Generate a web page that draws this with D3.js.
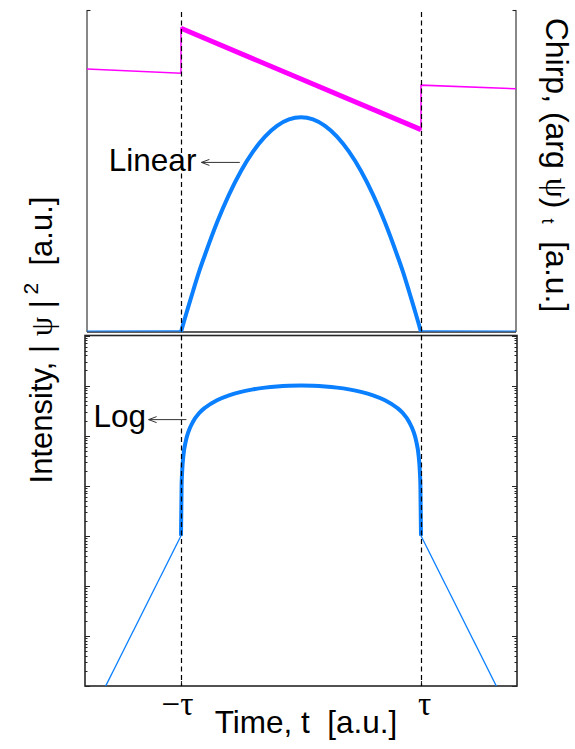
<!DOCTYPE html>
<html>
<head>
<meta charset="utf-8">
<script src="https://cdn.jsdelivr.net/npm/d3@7"></script>
<style>
  html, body { margin: 0; padding: 0; background: #fff; }
  svg { display: block; font-family: "Liberation Sans", Arial, Helvetica, sans-serif; }
  text { white-space: pre; }
</style>
</head>
<body>
<svg id="chart" width="575" height="749"></svg>
<script>
// Pulse inside the window [-tau, tau] (time in units of tau), peak-normalised intensity
const tPulse = [-1, -0.995, -0.99, -0.98, -0.96, -0.94, -0.9, -0.85, -0.8, -0.7, -0.6, -0.5, -0.4, -0.3, -0.2, -0.1,
                0, 0.1, 0.2, 0.3, 0.4, 0.5, 0.6, 0.7, 0.8, 0.85, 0.9, 0.94, 0.96, 0.98, 0.99, 0.995, 1];
const intensityPulse = [0.001, 0.01, 0.02, 0.04, 0.078, 0.116, 0.19, 0.28, 0.36, 0.51, 0.64, 0.75, 0.84, 0.91, 0.96, 0.99,
                        1.0, 0.99, 0.96, 0.91, 0.84, 0.75, 0.64, 0.51, 0.36, 0.28, 0.19, 0.116, 0.078, 0.04, 0.02, 0.01, 0.001];

// Exponential tails outside the pulse
const tTailLeft = [-1.8, -1];
const intensityTailLeft = [1.5e-7, 0.001];
const tTailRight = [1, 1.8];
const intensityTailRight = [0.001, 1.5e-7];

// Instantaneous frequency (chirp), arbitrary units
const tChirp = [-1.8, -1, -1, 1, 1, 1.8];
const chirp = [0.95, 0.91, 1.33, 0.385, 0.80, 0.765];

// Time axis ticks
const tickTimes = [-1, 1];
const tickLabels = ["\u2212\u03C4", "\u03C4"];

// ---- layout ----
const topPanel = { left: 87, right: 516, top: 10, bottom: 332 };
const botPanel = { left: 85, right: 517, top: 335.5, bottom: 686 };
const blue = "#0a7fff";
const magenta = "#ff00ff";
const axisColor = "#262626";

const svg = d3.select("#chart");

const x = d3.scaleLinear().domain([-1.8, 1.8]).range([botPanel.left, botPanel.right]);
const yLin = d3.scaleLinear().domain([0, 1.5]).range([topPanel.bottom, topPanel.top]);
const yChirp = d3.scaleLinear().domain([-1.5, 1.5]).range([topPanel.bottom, topPanel.top]);
const yLog = d3.scaleLog().domain([1e-6, 10]).range([botPanel.bottom, botPanel.top]);

const zip = (ts, vs) => ts.map((t, i) => ({ t, v: vs[i] }));
const pulse = zip(tPulse, intensityPulse);
const tailL = zip(tTailLeft, intensityTailLeft);
const tailR = zip(tTailRight, intensityTailRight);
const chirpPts = zip(tChirp, chirp);

const defs = svg.append("defs");
defs.append("clipPath").attr("id", "clipTop").append("rect")
  .attr("x", topPanel.left).attr("y", topPanel.top - 2)
  .attr("width", topPanel.right - topPanel.left).attr("height", topPanel.bottom - topPanel.top + 2);
defs.append("clipPath").attr("id", "clipBot").append("rect")
  .attr("x", botPanel.left).attr("y", botPanel.top)
  .attr("width", botPanel.right - botPanel.left).attr("height", botPanel.bottom - botPanel.top);

// ---- top panel frame: left/right/bottom lines only ----
const frameTop = svg.append("g").attr("stroke", axisColor).attr("fill", "none");
frameTop.append("line").attr("x1", topPanel.left).attr("x2", topPanel.left)
  .attr("y1", topPanel.top).attr("y2", topPanel.bottom).attr("stroke-width", 1.1);
frameTop.append("line").attr("x1", topPanel.right).attr("x2", topPanel.right)
  .attr("y1", topPanel.top).attr("y2", topPanel.bottom).attr("stroke-width", 1.1);
frameTop.append("line").attr("x1", topPanel.left).attr("x2", topPanel.right)
  .attr("y1", topPanel.bottom).attr("y2", topPanel.bottom).attr("stroke-width", 1.6);
frameTop.append("line").attr("x1", topPanel.left).attr("x2", topPanel.left + 3.5)
  .attr("y1", topPanel.top + 0.5).attr("y2", topPanel.top + 0.5).attr("stroke-width", 1.1);
frameTop.append("line").attr("x1", topPanel.right).attr("x2", topPanel.right - 3.5)
  .attr("y1", topPanel.top + 0.5).attr("y2", topPanel.top + 0.5).attr("stroke-width", 1.1);

// ---- bottom panel box ----
svg.append("rect")
  .attr("x", botPanel.left).attr("y", botPanel.top)
  .attr("width", botPanel.right - botPanel.left).attr("height", botPanel.bottom - botPanel.top)
  .attr("fill", "none").attr("stroke", axisColor).attr("stroke-width", 1.6);

// log ticks on both sides, pointing inward
const isDecade = v => Math.abs(Math.log10(v) - Math.round(Math.log10(v))) < 1e-9;
const logTicks = yLog.ticks();
const tickG = svg.append("g").attr("stroke", axisColor).attr("stroke-width", 1);
logTicks.forEach(v => {
  const len = isDecade(v) ? 5 : 2.5;
  const yy = Math.round(yLog(v)) + 0.5;
  tickG.append("line").attr("x1", botPanel.left).attr("x2", botPanel.left + len).attr("y1", yy).attr("y2", yy);
  tickG.append("line").attr("x1", botPanel.right).attr("x2", botPanel.right - len).attr("y1", yy).attr("y2", yy);
});

// time axis (bottom of log panel) with inward ticks, and mirrored ticks on its top edge
const xAxis = svg.append("g")
  .attr("transform", `translate(0,${botPanel.bottom})`)
  .call(d3.axisBottom(x).tickValues(tickTimes).tickSize(-5).tickFormat((d, i) => tickLabels[i]));
xAxis.select(".domain").remove();
xAxis.selectAll(".tick line").attr("stroke", axisColor).attr("stroke-width", 1.1);
xAxis.selectAll(".tick text")
  .attr("y", 29).attr("dy", 0)
  .attr("dx", (d, i) => (i === 0 ? -4 : 3))
  .attr("fill", "#000")
  .style("font-family", "'Liberation Serif', 'DejaVu Serif', serif")
  .style("font-size", "33px");

const xAxisTop = svg.append("g")
  .attr("transform", `translate(0,${botPanel.top})`)
  .call(d3.axisTop(x).tickValues(tickTimes).tickSize(-5).tickFormat(""));
xAxisTop.select(".domain").remove();
xAxisTop.selectAll(".tick line").attr("stroke", axisColor).attr("stroke-width", 1.1);

// ---- top panel: chirp (magenta) ----
const gTop = svg.append("g").attr("clip-path", "url(#clipTop)");
const chirpLine = d3.line().x(d => x(d.t)).y(d => yChirp(d.v));
gTop.append("path").datum(chirpPts)
  .attr("d", chirpLine).attr("fill", "none").attr("stroke", magenta).attr("stroke-width", 1.5);
gTop.append("path").datum(chirpPts.slice(2, 4))
  .attr("d", chirpLine).attr("fill", "none").attr("stroke", magenta).attr("stroke-width", 5);

// ---- top panel: linear intensity ----
const linLine = d3.line().x(d => x(d.t)).y(d => yLin(d.v));
gTop.append("path").datum(tailL).attr("d", linLine)
  .attr("fill", "none").attr("stroke", blue).attr("stroke-width", 1.2)
  .attr("transform", "translate(0,-1)");
gTop.append("path").datum(tailR).attr("d", linLine)
  .attr("fill", "none").attr("stroke", blue).attr("stroke-width", 1.2)
  .attr("transform", "translate(0,-1)");
gTop.append("path").datum(pulse)
  .attr("d", linLine.curve(d3.curveMonotoneX))
  .attr("fill", "none").attr("stroke", blue).attr("stroke-width", 4);

// ---- bottom panel: log intensity ----
const gBot = svg.append("g").attr("clip-path", "url(#clipBot)");
const logLine = d3.line().x(d => x(d.t)).y(d => yLog(d.v));
gBot.append("path").datum(tailL).attr("d", logLine)
  .attr("fill", "none").attr("stroke", blue).attr("stroke-width", 1.3);
gBot.append("path").datum(tailR).attr("d", logLine)
  .attr("fill", "none").attr("stroke", blue).attr("stroke-width", 1.3);
gBot.append("path").datum(pulse)
  .attr("d", d3.line().x(d => x(d.t)).y(d => yLog(d.v)).curve(d3.curveMonotoneX))
  .attr("fill", "none").attr("stroke", blue).attr("stroke-width", 4);

// ---- dashed markers at +/- tau ----
svg.append("g").selectAll("line").data(tickTimes).join("line")
  .attr("x1", d => Math.round(x(d)) + 0.5).attr("x2", d => Math.round(x(d)) + 0.5)
  .attr("y1", topPanel.top + 2).attr("y2", botPanel.bottom)
  .attr("stroke", "#000").attr("stroke-width", 1.2).attr("stroke-dasharray", "5,3.5");

// ---- annotations ----
function arrow(x0, y0, x1, y1) {
  const g = svg.append("g").attr("stroke", "#333").attr("stroke-width", 1).attr("fill", "none");
  g.append("line").attr("x1", x0).attr("y1", y0).attr("x2", x1).attr("y2", y1);
  g.append("path").attr("d", `M${x1 + 8},${y1 - 3}L${x1},${y1}L${x1 + 8},${y1 + 3}`);
}
const linArrowY = yLin(0.79);
arrow(x(-0.51), linArrowY, x(-0.83), linArrowY);
svg.append("text").attr("x", x(-0.83) - 5).attr("y", linArrowY + 8.5)
  .attr("text-anchor", "end").attr("font-size", 31.5).attr("fill", "#000").text("Linear");

const logArrowY = yLog(0.209);
arrow(x(-0.955), logArrowY, x(-1.27), logArrowY);
svg.append("text").attr("x", x(-1.27) - 2.5).attr("y", logArrowY + 7.5)
  .attr("text-anchor", "end").attr("font-size", 31.5).attr("fill", "#000").text("Log");

// ---- axis titles ----
svg.append("text")
  .attr("x", 306).attr("y", 733).attr("text-anchor", "middle")
  .attr("font-size", 31.5).attr("fill", "#000")
  .text("Time, t  [a.u.]");

const yTitle = svg.append("text")
  .attr("transform", "translate(52,340) rotate(-90)")
  .attr("text-anchor", "middle").attr("font-size", 31).attr("fill", "#000");
yTitle.append("tspan").text("Intensity, | ");
yTitle.append("tspan").style("font-family", "'Liberation Serif', serif").text("\u03C8");
yTitle.append("tspan").text(" |");
yTitle.append("tspan").attr("dy", -14).attr("font-size", 21).text(" 2");
yTitle.append("tspan").attr("dy", 14).text("  [a.u.]");

const y2Title = svg.append("text")
  .attr("transform", "translate(546,165) rotate(90)")
  .attr("text-anchor", "middle").attr("font-size", 32).attr("fill", "#000");
y2Title.append("tspan").text("Chirp, (arg ");
y2Title.append("tspan").style("font-family", "'Liberation Serif', serif").text("\u03C8");
y2Title.append("tspan").text(")");
y2Title.append("tspan").attr("dy", 4).attr("font-size", 18).text("  t");
y2Title.append("tspan").attr("dy", -4).text("  [a.u.]");
</script>
</body>
</html>
